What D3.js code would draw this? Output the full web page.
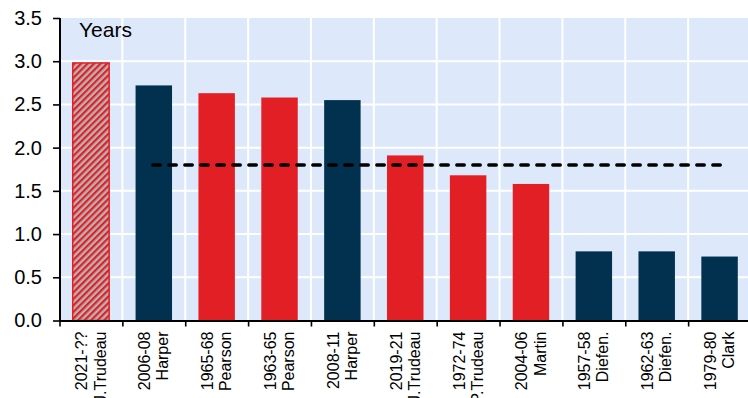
<!DOCTYPE html>
<html>
<head>
<meta charset="utf-8">
<script src="https://cdn.jsdelivr.net/npm/d3@7"></script>
<style>
  html, body { margin: 0; padding: 0; background: #ffffff; }
  svg { display: block; font-family: "Liberation Sans", Arial, sans-serif; }
</style>
</head>
<body>
<svg id="chart" width="748" height="398"></svg>
<script>
// ---- data ----
const periods = ["2021-??","2006-08","1965-68","1963-65","2008-11","2019-21","1972-74","2004-06","1957-58","1962-63","1979-80"];
const leaders = ["J.Trudeau","Harper","Pearson","Pearson","Harper","J.Trudeau","P.Trudeau","Martin","Diefen.","Diefen.","Clark"];
const years   = [2.98, 2.72, 2.63, 2.58, 2.55, 1.91, 1.68, 1.58, 0.80, 0.80, 0.74];
const parties = ["LIB-proj","CON","LIB","LIB","CON","LIB","LIB","LIB","CON","CON","CON"];
const averageValue = 1.80;
const averageFrom = "2006-08";
const averageTo = "1979-80";
const yTicks = [0, 0.5, 1.0, 1.5, 2.0, 2.5, 3.0, 3.5];
const yUnitLabel = "Years";

// ---- layout ----
const W = 748, H = 398;
const mLeft = 59.5, mRight = 751, mTop = 18, mBottom = 320.5;
const RED = "#e31f26", NAVY = "#02314f", BG = "#dde9fb";

const svg = d3.select("#chart");
const x = d3.scaleBand().domain(periods).range([mLeft, mRight]).paddingInner(0).paddingOuter(0);
const y = d3.scaleLinear().domain([0, 3.5]).range([mBottom, mTop]);

// hatch pattern
const defs = svg.append("defs");
const pat = defs.append("pattern").attr("id", "hatch")
  .attr("patternUnits", "userSpaceOnUse").attr("width", 4.6).attr("height", 4.6)
  .attr("patternTransform", "rotate(45)");
pat.append("rect").attr("width", 4.6).attr("height", 4.6).attr("fill", "#b5b3b3");
pat.append("rect").attr("x", 0).attr("y", 0).attr("width", 2.2).attr("height", 4.6).attr("fill", RED);

// plot background
svg.append("rect").attr("x", mLeft).attr("y", y(3.5)).attr("width", mRight - mLeft).attr("height", y(0) - y(3.5)).attr("fill", BG);

// gridlines
svg.append("g").selectAll("line").data(yTicks.filter(d => d > 0 && d < 3.5)).join("line")
  .attr("x1", mLeft).attr("x2", mRight).attr("y1", d => y(d)).attr("y2", d => y(d))
  .attr("stroke", "#ffffff").attr("stroke-width", 2);
svg.append("g").selectAll("line").data(periods.slice(1)).join("line")
  .attr("x1", d => x(d)).attr("x2", d => x(d)).attr("y1", y(3.5)).attr("y2", y(0))
  .attr("stroke", "#ffffff").attr("stroke-width", 2);

// bars
const barFrac = 0.58;
const bw = x.bandwidth() * barFrac;
svg.append("g").selectAll("rect").data(periods).join("rect")
  .attr("x", (d) => x(d) + (x.bandwidth() - bw) / 2)
  .attr("y", (d, i) => y(years[i]))
  .attr("width", bw)
  .attr("height", (d, i) => y(0) - y(years[i]))
  .attr("fill", (d, i) => parties[i] === "LIB-proj" ? "url(#hatch)" : (parties[i] === "CON" ? NAVY : RED))
  .attr("stroke", (d, i) => parties[i] === "LIB-proj" ? RED : "none")
  .attr("stroke-width", 1.5);

// average dashed line
svg.append("line")
  .attr("x1", x(averageFrom) + x.bandwidth() / 2 - 1)
  .attr("x2", x(averageTo) + x.bandwidth() / 2 + 1)
  .attr("y1", y(averageValue)).attr("y2", y(averageValue))
  .attr("stroke", "#000000").attr("stroke-width", 3.4)
  .attr("stroke-dasharray", "7.5,8.5").attr("stroke-linecap", "round");

// y axis
const yAxis = d3.axisLeft(y).tickValues(yTicks).tickFormat(d3.format(".1f")).tickSize(7).tickPadding(11);
const gy = svg.append("g").attr("transform", `translate(${mLeft + 0.5},0)`).call(yAxis);
gy.select(".domain").attr("stroke", "#000").attr("stroke-width", 2).attr("d", `M0,${y(3.5)}V${y(0) + 1}`);
gy.selectAll(".tick line").attr("stroke", "#000").attr("stroke-width", 1.6);
gy.selectAll(".tick text").attr("font-size", 20).attr("fill", "#000")
  .attr("font-family", "'Liberation Sans', Arial, sans-serif");

// x axis line + ticks at band boundaries
svg.append("line").attr("x1", mLeft).attr("x2", W).attr("y1", y(0) + 0.5).attr("y2", y(0) + 0.5)
  .attr("stroke", "#000").attr("stroke-width", 2);
svg.append("g").selectAll("line").data(periods).join("line")
  .attr("x1", d => x(d) + 0.5).attr("x2", d => x(d) + 0.5)
  .attr("y1", y(0)).attr("y2", y(0) + 6)
  .attr("stroke", "#000").attr("stroke-width", 1.6);

// x labels (rotated, two lines)
const lab = svg.append("g").selectAll("text").data(periods).join("text")
  .attr("transform", d => `translate(${x(d) + x.bandwidth() / 2},${y(0) + 11}) rotate(-90)`)
  .attr("text-anchor", "end").attr("font-size", 16).attr("fill", "#000");
lab.append("tspan").attr("x", 0).attr("y", -3.6).text(d => d);
lab.append("tspan").attr("x", 0).attr("y", 14.6).text((d, i) => leaders[i]);

// unit label
svg.append("text").attr("x", 79).attr("y", 36.5).attr("font-size", 21).attr("fill", "#000").text(yUnitLabel);
</script>
</body>
</html>
